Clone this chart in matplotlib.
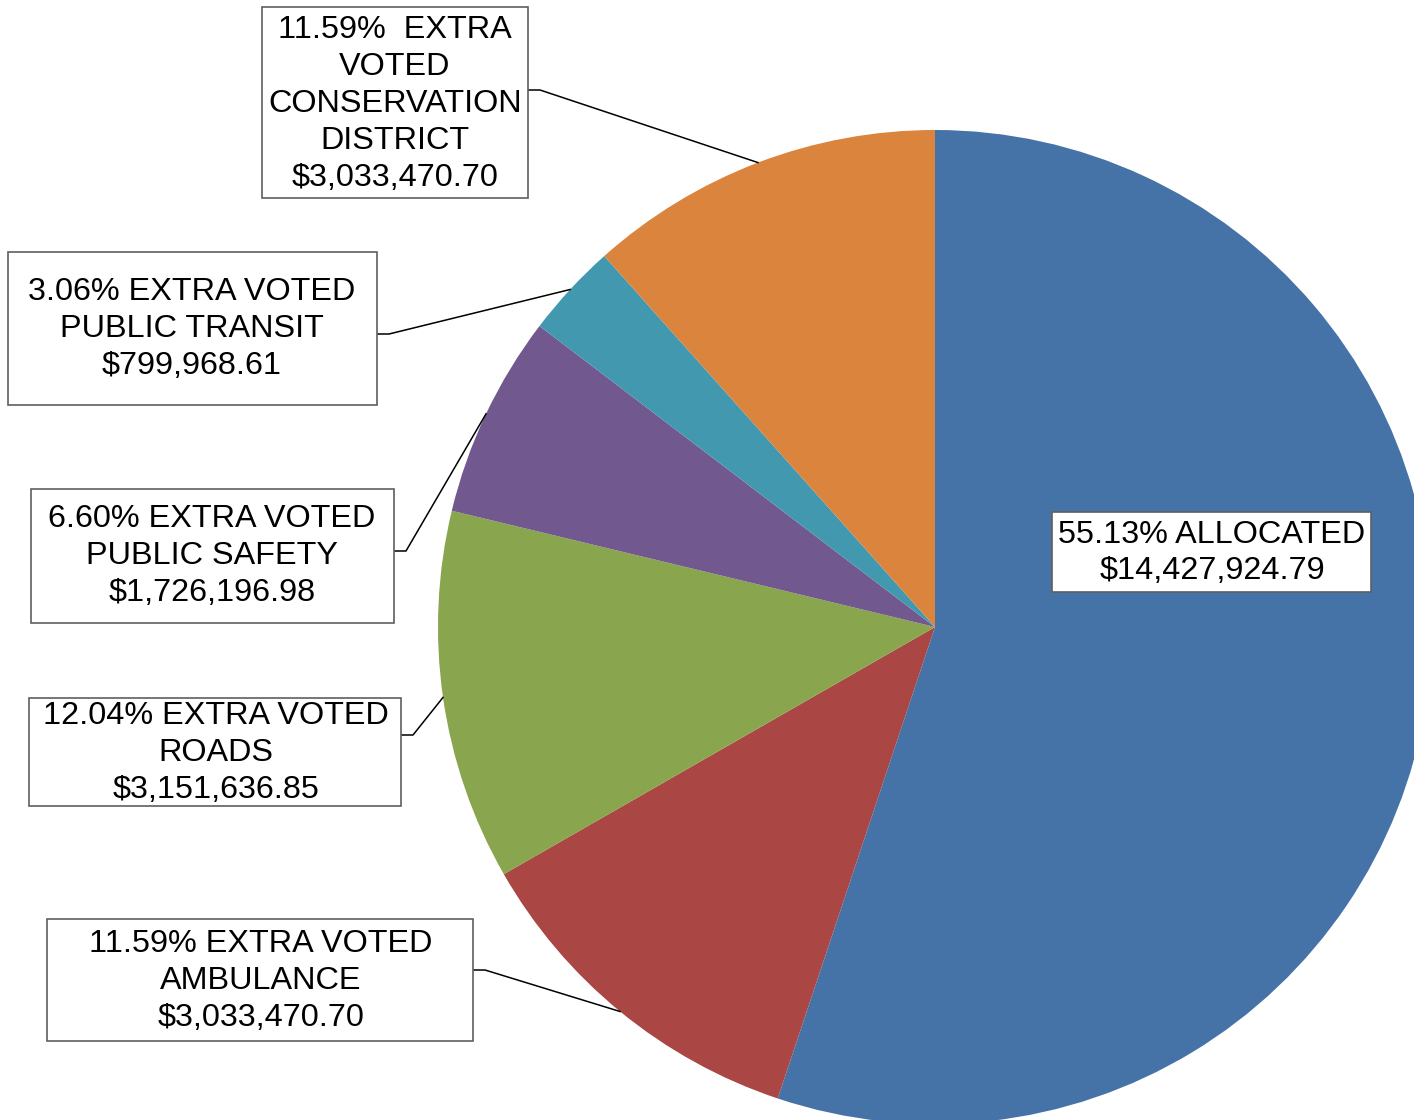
import numpy as np
import matplotlib
matplotlib.use("Agg")
import matplotlib.pyplot as plt
from matplotlib.patches import Rectangle

plt.rcParams['font.family'] = ['Liberation Sans', 'DejaVu Sans']

# slice data (clockwise from 12 o'clock)
labels = [
    "55.13% ALLOCATED\n$14,427,924.79",
    "11.59% EXTRA VOTED\nAMBULANCE\n$3,033,470.70",
    "12.04% EXTRA VOTED\nROADS\n$3,151,636.85",
    "6.60% EXTRA VOTED\nPUBLIC SAFETY\n$1,726,196.98",
    "3.06% EXTRA VOTED\nPUBLIC TRANSIT\n$799,968.61",
    "11.59%  EXTRA\nVOTED\nCONSERVATION\nDISTRICT\n$3,033,470.70",
]
amounts = [14427924.79, 3033470.70, 3151636.85, 1726196.98, 799968.61, 3033470.70]
colors = ["#4572A7", "#AA4643", "#89A54E", "#71588F", "#4198AF", "#DB843D"]

W, H = 1414, 1120
fig = plt.figure(figsize=(W / 100, H / 100), dpi=100)
ax = fig.add_axes([0, 0, 1, 1])

# pixel layout (y measured from top)
cx, cy, R = 935, 627, 497
wedges, _ = ax.pie(amounts, colors=colors, startangle=90, counterclock=False,
                   center=(cx, H - cy), radius=R, frame=True,
                   wedgeprops=dict(linewidth=0))

# label boxes: (left, top, right, bottom) in pixels, text center
boxes = [
    (1052, 512, 1371, 592, 1212, 553),
    (47, 919, 473, 1041, 261, 981),
    (29, 698, 401, 806, 216, 753),
    (31, 489, 394, 623, 212, 556),
    (8, 252, 377, 405, 192, 329),
    (262, 7, 528, 198, 395, 104),
]
# leader attach points on box edge (x, y); None for inside label
attach = [None, (473, 970), (401, 735), (394, 551), (377, 334), (528, 90)]

for w, lab, b, a in zip(wedges, labels, boxes, attach):
    l, t, r, btm, tx, ty = b
    ax.add_patch(Rectangle((l, H - btm), r - l, btm - t, facecolor="white",
                           edgecolor="#5f5f5f", linewidth=1.2, zorder=3))
    ax.text(tx, H - ty, lab, ha="center", va="center", fontsize=23.3,
            linespacing=1.30, color="black", zorder=4)
    if a is not None:
        mid = np.deg2rad((w.theta1 + w.theta2) / 2)
        px = cx + R * np.cos(mid)
        py = (H - cy) + R * np.sin(mid)
        ax.plot([a[0], a[0] + 12, px], [H - a[1], H - a[1], py],
                color="black", linewidth=1.1, zorder=2)

ax.set_xlim(0, W)
ax.set_ylim(0, H)
ax.set_aspect("equal")
ax.axis("off")

fig.savefig("out.png", dpi=100)
